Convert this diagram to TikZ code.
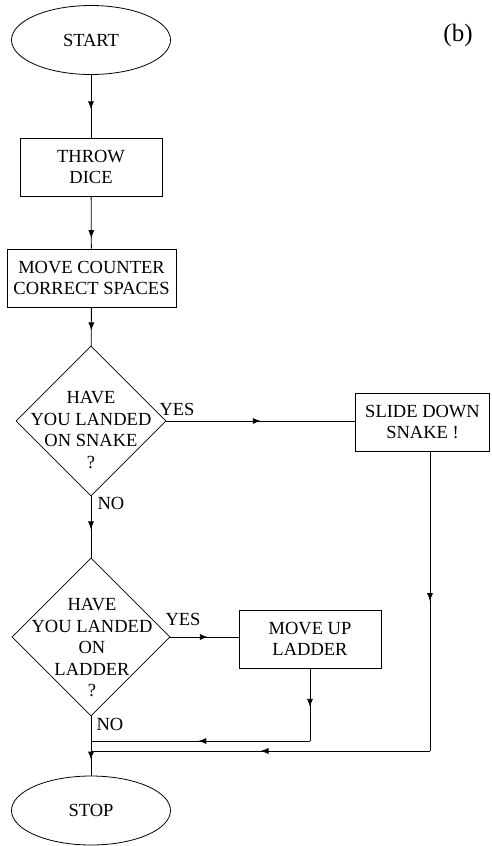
\documentclass[tikz,border=0pt]{standalone}
\usepackage{fontspec}
\setmainfont{Liberation Serif}
\usetikzlibrary{shapes.geometric,arrows.meta,decorations.markings}
\tikzset{
  base/.style={draw, line width=0.8pt, inner sep=0pt, align=center, font=\fontsize{18.5}{21.5}\selectfont},
  oval/.style={base, ellipse, minimum width=159pt, minimum height=69pt},
  procbox/.style={base, rectangle, minimum height=58pt},
  decision/.style={base, diamond, aspect=1},
  txt/.style={inner sep=0pt, align=center, font=\fontsize{18.5}{21.5}\selectfont},
  conn/.style={line width=0.8pt},
  midarrow/.style={conn, decoration={markings, mark=at position #1 with {\arrow{Latex[length=8pt,width=6pt]}}}, postaction={decorate}}
}
\begin{document}
\begin{tikzpicture}[x=1pt,y=-1pt]
\useasboundingbox (0,0) rectangle (492,846);
% nodes
\node[oval] (start) at (91,40) {START};
\node[procbox, minimum width=142pt] (throw) at (91,167) {THROW\\DICE};
\node[procbox, minimum width=169pt] (move) at (91.5,278) {MOVE COUNTER\\CORRECT SPACES};
\node[decision, minimum width=150pt, minimum height=150pt] (d1) at (91,421) {};
\node[txt] (d1t) at (91,430) {HAVE\\YOU LANDED\\ON SNAKE\\?};
\node[procbox, minimum width=134pt] (snake) at (422.5,422) {SLIDE DOWN\\SNAKE !};
\node[decision, minimum width=158pt, minimum height=158pt] (d2) at (91,637) {};
\node[txt] (d2t) at (92,648) {HAVE\\YOU LANDED\\ON\\LADDER\\?};
\node[procbox, minimum width=142pt] (ladder) at (310,639) {MOVE UP\\LADDER};
\node[oval] (stop) at (91,810.5) {STOP};
% labels
\node[txt] (yes1) at (177,409) {YES};
\node[txt] (yes2) at (183,619) {YES};
\node[txt] (no1) at (111,503) {NO};
\node[txt] (no2) at (110,724) {NO};
\node[inner sep=0pt, font=\fontsize{25}{28}\selectfont] (blabel) at (458,35) {(b)};
% coordinates
\coordinate (j1) at (91,741);
\coordinate (j2) at (91,751);
\coordinate (c1) at (ladder.south |- j1);
\coordinate (c2) at (430,751);
\coordinate (s2) at (c2 |- snake.south);
% connectors
\draw[midarrow=0.55] (start) -- (throw);
\draw[midarrow=0.8] (throw) -- (move);
\draw[midarrow=0.6] (move) -- (d1);
\draw[midarrow=0.5] (d1.east) -- (d1.east -| snake.west);
\draw[midarrow=0.54] (d1) -- (d2);
\draw[midarrow=0.55] (d2.east) -- (d2.east -| ladder.west);
\draw[midarrow=0.53] (ladder.south) -- (c1);
\draw[midarrow=0.51] (c1) -- (j1);
\draw[midarrow=0.5] (s2) -- (c2);
\draw[midarrow=0.5] (c2) -- (j2);
\draw[midarrow=0.73] (d2) -- (stop);
\end{tikzpicture}
\end{document}
